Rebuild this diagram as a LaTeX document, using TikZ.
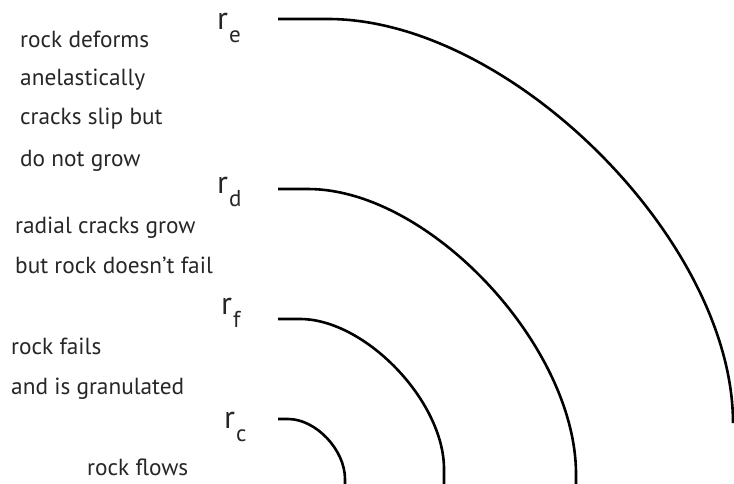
\documentclass[tikz,border=0pt]{standalone}
\usepackage{fontspec}
\setmainfont{PT Sans}
\newcommand{\txtfont}{\fontsize{23.3}{23.3}\selectfont}
\newcommand{\rfont}{\fontsize{32}{32}\selectfont}
\newcommand{\subfont}{\fontsize{23}{23}\selectfont}
\newcommand{\rlab}[1]{{\rfont r}\kern1pt\lower13pt\hbox{\subfont #1}}
\begin{document}
\begin{tikzpicture}[x=1pt,y=-1pt,
  desc/.style={anchor=base west,inner sep=0pt,font=\txtfont,text=black!85},
  rl/.style={anchor=base west,inner sep=0pt,text=black!85},
  arc/.style={line width=2.6pt,black}]
\useasboundingbox (0,0) rectangle (734,483);
% labels
\node[rl] (re) at (217,29) {\rlab{e}};
\node[rl] (rd) at (217,193) {\rlab{d}};
\node[rl] (rf) at (221,314) {\rlab{f}};
\node[rl] (rc) at (224,428) {\rlab{c}};
% descriptions
\node[desc] (t1) at (20,47) {rock deforms};
\node[desc] (t2) at (20,85) {anelastically};
\node[desc] (t3) at (20,124) {cracks slip but};
\node[desc] (t4) at (20,166) {do not grow};
\node[desc] (t5) at (15,233) {radial cracks grow};
\node[desc] (t6) at (15,273) {but rock doesn't fail};
\node[desc] (t7) at (11,354) {rock fails};
\node[desc] (t8) at (11,394) {and is granulated};
\node[desc] (t9) at (87,475) {rock flows};
% arcs
\begin{scope}
\clip (0,0) rectangle (734,483);
\coordinate (ea) at (278,19); \coordinate (eb) at (328,19); \coordinate (ee) at (733,423);
\draw[arc] (ea) -- (eb) .. controls (510,19) and (733,241) .. (ee);
\coordinate (da) at (278,189); \coordinate (db) at (308,189); \coordinate (de) at (576,474); \coordinate (dz) at (576,495);
\draw[arc] (da) -- (db) .. controls (429,189) and (576,346) .. (de) -- (dz);
\coordinate (fa) at (278,319); \coordinate (fb) at (300,319); \coordinate (fe) at (444,469); \coordinate (fz) at (444,495);
\draw[arc] (fa) -- (fb) .. controls (365,319) and (444,401) .. (fe) -- (fz);
\coordinate (ca) at (278,419); \coordinate (cb) at (288,419); \coordinate (ce) at (345,479); \coordinate (cz) at (345,495);
\draw[arc] (ca) -- (cb) .. controls (316,419) and (345,450) .. (ce) -- (cz);
\end{scope}
\end{tikzpicture}
\end{document}
